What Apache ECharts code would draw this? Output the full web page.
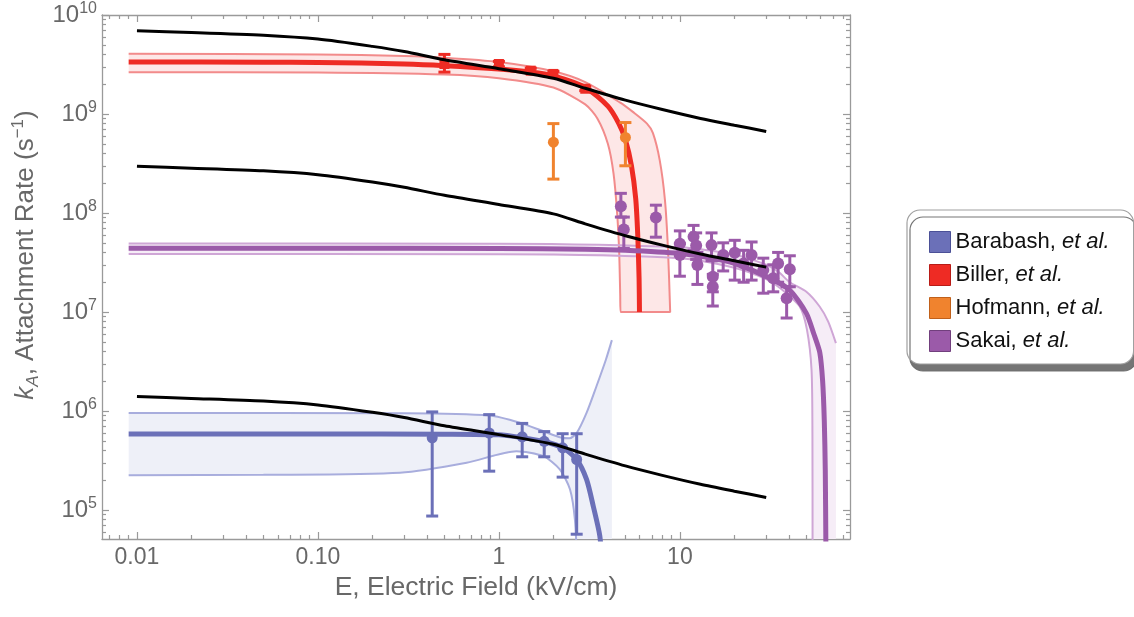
<!DOCTYPE html>
<html><head><meta charset="utf-8">
<script src="https://cdn.jsdelivr.net/npm/echarts@6/dist/echarts.min.js"></script>
<style>html,body{margin:0;padding:0;background:#fff}#c{width:1134px;height:617px}</style>
</head><body><div id="c"></div>
<script>
// ---------- axes ----------
const X_MIN = 0.00641, X_MAX = 87.1;
const Y_MIN = 5.1e4, Y_MAX = 1e10;
const X_MAJOR = [0.01, 0.1, 1, 10];
const X_MAJOR_LABELS = ['0.01', '0.10', '1', '10'];
const Y_MAJOR = [1e5, 1e6, 1e7, 1e8, 1e9, 1e10];
const Y_MAJOR_EXP = ['5', '6', '7', '8', '9', '10'];
const MINOR_MULT = [2, 3, 4, 5, 6, 7, 8, 9];

// ---------- theory curves (black) ----------
const BLACK_E   = [0.01, 0.02, 0.05, 0.1, 0.2, 0.3, 0.5, 1, 2, 3, 5, 8, 13, 20, 30];
const BLACK_TOP = [6.93e9, 6.67e9, 6.25e9, 5.71e9, 4.82e9, 4.28e9, 3.53e9, 2.87e9, 2.30e9, 1.82e9, 1.38e9, 1.11e9, 9.02e8, 7.71e8, 6.67e8];
const BLACK_MID = [2.96e8, 2.84e8, 2.67e8, 2.44e8, 2.06e8, 1.82e8, 1.51e8, 1.22e8, 9.8e7, 7.78e7, 5.9e7, 4.74e7, 3.85e7, 3.29e7, 2.84e7];
const BLACK_LOW = [1.40e6, 1.34e6, 1.26e6, 1.15e6, 9.7e5, 8.6e5, 7.1e5, 5.78e5, 4.62e5, 3.67e5, 2.79e5, 2.24e5, 1.82e5, 1.55e5, 1.34e5];

// ---------- Biller (red) ----------
const BIL_FIT_E = [0.009, 0.05, 0.1, 0.3, 0.5, 1, 1.5, 2, 3, 4, 4.6, 5, 5.4, 5.7, 5.85, 5.95, 5.98];
const BIL_FIT   = [3.35e9, 3.34e9, 3.32e9, 3.2e9, 3.08e9, 2.85e9, 2.65e9, 2.42e9, 1.85e9, 1.2e9, 8e8, 5.5e8, 3.0e8, 1.4e8, 6e7, 2.2e7, 1.0e7];
const BIL_UP_E  = [0.009, 0.1, 0.3, 0.5, 1, 2, 3, 4.66, 5.5, 6.58, 7.1, 7.74, 8.27, 8.6, 8.84];
const BIL_UP    = [4.05e9, 4.0e9, 3.85e9, 3.7e9, 3.35e9, 2.7e9, 2.1e9, 1.31e9, 1.05e9, 8e8, 6.4e8, 3.4e8, 1.35e8, 4.2e7, 1e7];
const BIL_LO_E  = [0.009, 0.1, 0.5, 1, 2, 3, 3.5, 4, 4.3, 4.5, 4.62, 4.68, 4.7];
const BIL_LO    = [2.64e9, 2.62e9, 2.5e9, 2.3e9, 1.85e9, 1.25e9, 9e8, 5e8, 2.5e8, 1e8, 4e7, 1.5e7, 1e7];
const BIL_E  = [0.5, 1.0, 1.5, 2.0, 3.0];
const BIL_K  = [3.2e9, 3.2e9, 2.74e9, 2.54e9, 1.8e9];
const BIL_KLO = [2.65e9, 3.0e9, 2.6e9, 2.4e9, 1.72e9];
const BIL_KHI = [4.0e9, 3.4e9, 2.9e9, 2.7e9, 1.9e9];

// ---------- Hofmann (orange) ----------
const HOF_E = [2.0, 5.0];
const HOF_K = [5.2e8, 5.8e8];
const HOF_KLO = [2.2e8, 3.0e8];
const HOF_KHI = [8.0e8, 8.2e8];

// ---------- Barabash (blue) ----------
const BAR_FIT_E = [0.009, 0.1, 0.5, 1, 1.36, 1.75, 2.26, 2.69, 3.05, 3.32, 3.61, 3.7];
const BAR_FIT   = [5.87e5, 5.87e5, 5.84e5, 5.75e5, 5.36e5, 4.95e5, 4.25e5, 3.24e5, 2.04e5, 1.1e5, 5.5e4, 3e4];
const BAR_UP_E  = [0.009, 0.3, 0.89, 1.31, 1.76, 2.2, 2.45, 2.69, 3.05, 3.46, 3.9, 4.21];
const BAR_UP    = [9.57e5, 9.5e5, 9.0e5, 7.6e5, 6.25e5, 5.4e5, 5.3e5, 6.0e5, 9.57e5, 1.78e6, 3.3e6, 5.2e6];
const BAR_LO_E  = [0.009, 0.05, 0.284, 0.663, 1.25, 1.76, 2.17, 2.47, 2.63, 2.7];
const BAR_LO    = [2.25e5, 2.27e5, 2.38e5, 3.0e5, 3.93e5, 3.5e5, 2.57e5, 1.62e5, 8e4, 3e4];
const BAR_BAND_END = 4.21;
const BAR_E   = [0.428, 0.884, 1.345, 1.78, 2.25, 2.69];
const BAR_K   = [5.36e5, 6.0e5, 5.49e5, 4.95e5, 4.25e5, 3.24e5];
const BAR_KLO = [8.7e4, 2.47e5, 3.45e5, 3.45e5, 2.15e5, 5.7e4];
const BAR_KHI = [9.8e5, 9.2e5, 7.5e5, 6.2e5, 5.9e5, 5.9e5];

// ---------- Sakai (purple) ----------
const SAK_FIT_E = [0.009, 0.1, 1, 3, 5, 10, 15, 20, 31.4, 40.5, 50, 55, 59.3, 61.5, 62.8, 63.6, 64.1];
const SAK_FIT   = [4.4e7, 4.4e7, 4.38e7, 4.3e7, 4.2e7, 3.9e7, 3.5e7, 3.1e7, 2.2e7, 1.66e7, 9.7e6, 6e6, 3.9e6, 2.0e6, 8e5, 2.5e5, 4e4];
const SAK_UP_E  = [0.009, 1, 10, 20, 30, 35, 40.5, 50, 59.3, 66, 72.8];
const SAK_UP    = [4.93e7, 4.9e7, 4.5e7, 3.8e7, 3.0e7, 2.55e7, 2.0e7, 1.6e7, 1.13e7, 8e6, 4.85e6];
const SAK_LO_E  = [0.009, 1, 10, 20, 30, 35.7, 46, 50.4, 53.4, 54, 54.1];
const SAK_LO    = [3.85e7, 3.83e7, 3.5e7, 2.8e7, 2.15e7, 1.75e7, 1.13e7, 6.6e6, 2.6e6, 6e5, 3e4];
const SAK_BAND_END = 72.8;
const SAK_E   = [4.72, 4.9, 7.37, 10.0, 10.0, 11.9, 12.3, 12.5, 14.96, 15.2, 15.2, 17.35, 20.1, 22.5, 24.9, 28.9, 32.8, 34.9, 38.9, 40.5];
const SAK_K   = [1.17e8, 6.8e7, 9.0e7, 4.9e7, 3.76e7, 5.76e7, 4.7e7, 2.98e7, 4.74e7, 2.27e7, 1.8e7, 3.76e7, 3.96e7, 3.1e7, 3.76e7, 2.65e7, 2.19e7, 3.09e7, 1.38e7, 2.7e7];
const SAK_KLO = [9.1e7, 4.4e7, 5.7e7, 3.7e7, 2.3e7, 4.2e7, 3.4e7, 1.9e7, 3.3e7, 1.6e7, 1.15e7, 2.6e7, 2.1e7, 2.0e7, 2.1e7, 1.55e7, 1.6e7, 2.0e7, 8.7e6, 1.8e7];
const SAK_KHI = [1.58e8, 9.1e7, 1.2e8, 6.6e7, 4.9e7, 7.5e7, 6.3e7, 4.0e7, 6.3e7, 3.3e7, 2.4e7, 5.0e7, 5.3e7, 4.2e7, 5.1e7, 3.5e7, 3.0e7, 4.0e7, 1.8e7, 3.7e7];

// ---------- styles ----------
const FONT = '"Liberation Sans", Arial, Helvetica, sans-serif';
const FRAME = '#9a9a9a';
const LABEL = '#686868';
const C = {
  blue:   {main: '#6b70b8', band: '#a8addd', fill: '#eef0f8', border: '#4b5097'},
  red:    {main: '#ee2b24', band: '#f28b8b', fill: '#fde7e7', border: '#b81c17'},
  orange: {main: '#f0832e', border: '#c0601a'},
  purple: {main: '#9b5aa9', band: '#cfa6d6', fill: '#f6edf7', border: '#713f7d'}
};

const zip = (xs, ys) => xs.map((x, i) => [x, ys[i]]);
const zip3 = (xs, a, b) => xs.map((x, i) => [x, a[i], b[i]]);
const minors = (lo, hi) => { const out = []; for (let d = lo; d <= hi; d++) MINOR_MULT.forEach(m => out.push(m * Math.pow(10, d))); return out; };
const X_MINOR = minors(-3, 1).filter(v => v > X_MIN && v < X_MAX);
const Y_MINOR = minors(4, 9).filter(v => v > Y_MIN && v < Y_MAX);
const near = (arr, v) => arr.findIndex(a => Math.abs(a - v) / a < 1e-6);

function lineS(name, data, color, width, z) {
  return {type: 'line', name, data, showSymbol: false, symbol: 'none', smooth: 0.25, z,
    lineStyle: {color, width}, silent: true, clip: true, animation: false};
}
function bandS(name, pts, fill) {
  return {type: 'custom', name, coordinateSystem: 'cartesian2d', data: pts, encode: {x: 0, y: 1},
    clip: true, silent: true, z: 1, animation: false,
    renderItem(params, api) {
      if (params.dataIndex !== 0) return null;
      return {type: 'polygon', shape: {points: pts.map(p => api.coord(p)), smooth: 0}, style: {fill}};
    }};
}
function errS(name, data, color) {
  return {type: 'custom', name, coordinateSystem: 'cartesian2d', data, encode: {x: 0, y: [1, 2]},
    silent: true, z: 5, animation: false,
    renderItem(params, api) {
      const x = api.value(0);
      const lo = api.coord([x, api.value(1)]);
      const hi = api.coord([x, api.value(2)]);
      const cw = 6, st = {stroke: color, lineWidth: 3};
      return {type: 'group', children: [
        {type: 'line', shape: {x1: lo[0], y1: lo[1], x2: hi[0], y2: hi[1]}, style: st},
        {type: 'line', shape: {x1: lo[0] - cw, y1: lo[1], x2: lo[0] + cw, y2: lo[1]}, style: st},
        {type: 'line', shape: {x1: hi[0] - cw, y1: hi[1], x2: hi[0] + cw, y2: hi[1]}, style: st}
      ]};
    }};
}
function ptS(name, data, color, symbol, size) {
  return {type: 'scatter', name, data, symbol, symbolSize: size, z: 6, animation: false,
    itemStyle: {color, opacity: 1}};
}

const xBase = {type: 'log', min: X_MIN, max: X_MAX, splitLine: {show: false}, minorTick: {show: false}, silent: true};
const yBase = {type: 'log', min: Y_MIN, max: Y_MAX, splitLine: {show: false}, minorTick: {show: false}, silent: true};
const tick = (vals, len) => ({show: true, inside: true, length: len, customValues: vals, lineStyle: {color: FRAME, width: 1.2}});
const frameLine = {show: true, lineStyle: {color: FRAME, width: 1.3}};

const redPoly = zip(BIL_UP_E, BIL_UP).concat(zip(BIL_LO_E, BIL_LO).reverse());
const bluePoly = zip(BAR_UP_E, BAR_UP).concat([[BAR_BAND_END, Y_MIN]], zip(BAR_LO_E, BAR_LO).reverse());
const purplePoly = zip(SAK_UP_E, SAK_UP).concat([[SAK_BAND_END, Y_MIN]], zip(SAK_LO_E, SAK_LO).reverse());

const chart = echarts.init(document.getElementById('c'), null, {renderer: 'canvas'});
chart.setOption({
  animation: false,
  backgroundColor: '#fff',
  grid: {left: 102, right: 284, top: 15, bottom: 78, containLabel: false, outerBoundsMode: 'none'},
  xAxis: [
    Object.assign({}, xBase, {position: 'bottom', axisLine: frameLine, axisTick: tick(X_MAJOR, 7),
      axisLabel: {customValues: X_MAJOR, margin: 7, fontSize: 23, color: LABEL, fontFamily: FONT,
        formatter: v => X_MAJOR_LABELS[near(X_MAJOR, v)]},
      name: 'E, Electric Field (kV/cm)', nameLocation: 'middle', nameGap: 35,
      nameTextStyle: {fontSize: 26.5, color: LABEL, fontFamily: FONT}}),
    Object.assign({}, xBase, {position: 'bottom', offset: 0, axisLine: {show: false}, axisTick: tick(X_MINOR, 4), axisLabel: {show: false}}),
    Object.assign({}, xBase, {position: 'top', offset: 0, axisLine: frameLine, axisTick: tick(X_MAJOR, 7), axisLabel: {show: false}}),
    Object.assign({}, xBase, {position: 'top', offset: 0, axisLine: {show: false}, axisTick: tick(X_MINOR, 4), axisLabel: {show: false}})
  ],
  yAxis: [
    Object.assign({}, yBase, {position: 'left', axisLine: frameLine, axisTick: tick(Y_MAJOR, 7),
      axisLabel: {customValues: Y_MAJOR, margin: 5, color: LABEL, fontFamily: FONT,
        formatter: v => '{b|10}{s|' + Y_MAJOR_EXP[near(Y_MAJOR, v)] + '}',
        rich: {b: {fontSize: 24, lineHeight: 29, verticalAlign: 'middle', color: LABEL, fontFamily: FONT},
               s: {fontSize: 16, lineHeight: 16, verticalAlign: 'top', color: LABEL, fontFamily: FONT}}},
      name: '{i|k}{sub|A}{n|, Attachment Rate (s}{sup|−1}{n|)}', nameLocation: 'middle', nameGap: 50,
      nameTextStyle: {color: LABEL, fontFamily: FONT, padding: [0, 0, 0, 44], rich: {
        n: {fontSize: 26, lineHeight: 32, color: LABEL, fontFamily: FONT},
        i: {fontSize: 26, lineHeight: 32, fontStyle: 'italic', color: LABEL, fontFamily: FONT},
        sub: {fontSize: 17, lineHeight: 17, verticalAlign: 'bottom', fontStyle: 'italic', color: LABEL, fontFamily: FONT},
        sup: {fontSize: 17, lineHeight: 17, verticalAlign: 'top', color: LABEL, fontFamily: FONT}}}}),
    Object.assign({}, yBase, {position: 'left', offset: 0, axisLine: {show: false}, axisTick: tick(Y_MINOR, 4), axisLabel: {show: false}}),
    Object.assign({}, yBase, {position: 'right', offset: 0, axisLine: frameLine, axisTick: tick(Y_MAJOR, 7), axisLabel: {show: false}}),
    Object.assign({}, yBase, {position: 'right', offset: 0, axisLine: {show: false}, axisTick: tick(Y_MINOR, 4), axisLabel: {show: false}})
  ],
  legend: {
    orient: 'vertical', left: 907, top: 210, padding: [21, 24, 12, 22], itemGap: 11,
    itemWidth: 21, itemHeight: 21, icon: 'rect', selectedMode: false,
    backgroundColor: '#fff', borderColor: '#a0a0a0', borderWidth: 1.2, borderRadius: 13,
    shadowColor: 'rgba(110,110,110,0.95)', shadowBlur: 0, shadowOffsetX: 3, shadowOffsetY: 7,
    data: [
      {name: 'Barabash', itemStyle: {color: C.blue.main, borderColor: C.blue.border, borderWidth: 1}},
      {name: 'Biller', itemStyle: {color: C.red.main, borderColor: C.red.border, borderWidth: 1}},
      {name: 'Hofmann', itemStyle: {color: C.orange.main, borderColor: C.orange.border, borderWidth: 1}},
      {name: 'Sakai', itemStyle: {color: C.purple.main, borderColor: C.purple.border, borderWidth: 1}}
    ],
    formatter: n => '{n|' + n + ', }{i|et al.}',
    textStyle: {rich: {
      n: {fontSize: 22, lineHeight: 22, color: '#111', fontFamily: FONT},
      i: {fontSize: 22, lineHeight: 22, color: '#111', fontStyle: 'italic', fontFamily: FONT}}}
  },
  series: [
    bandS('redBand', redPoly, C.red.fill),
    bandS('blueBand', bluePoly, C.blue.fill),
    bandS('purpleBand', purplePoly, C.purple.fill),
    lineS('redEdge', redPoly, C.red.band, 2, 2),
    lineS('blueUp', zip(BAR_UP_E, BAR_UP), C.blue.band, 2, 2),
    lineS('blueLo', zip(BAR_LO_E, BAR_LO), C.blue.band, 2, 2),
    lineS('purpleUp', zip(SAK_UP_E, SAK_UP), C.purple.band, 2, 2),
    lineS('purpleLo', zip(SAK_LO_E, SAK_LO), C.purple.band, 2, 2),
    lineS('redFit', zip(BIL_FIT_E, BIL_FIT), C.red.main, 5, 3),
    lineS('blueFit', zip(BAR_FIT_E, BAR_FIT), C.blue.main, 5, 3),
    lineS('purpleFit', zip(SAK_FIT_E, SAK_FIT), C.purple.main, 5, 3),
    errS('bilErr', zip3(BIL_E, BIL_KLO, BIL_KHI), C.red.main),
    errS('hofErr', zip3(HOF_E, HOF_KLO, HOF_KHI), C.orange.main),
    errS('barErr', zip3(BAR_E, BAR_KLO, BAR_KHI), C.blue.main),
    errS('sakErr', zip3(SAK_E, SAK_KLO, SAK_KHI), C.purple.main),
    ptS('Biller', zip(BIL_E, BIL_K), C.red.main, 'rect', 10),
    ptS('Hofmann', zip(HOF_E, HOF_K), C.orange.main, 'circle', 11),
    ptS('Barabash', zip(BAR_E, BAR_K), C.blue.main, 'circle', 11),
    ptS('Sakai', zip(SAK_E, SAK_K), C.purple.main, 'circle', 12),
    lineS('theoryTop', zip(BLACK_E, BLACK_TOP), '#000', 3, 7),
    lineS('theoryMid', zip(BLACK_E, BLACK_MID), '#000', 3, 7),
    lineS('theoryLow', zip(BLACK_E, BLACK_LOW), '#000', 3, 7)
  ]
});
</script>
</body></html>
